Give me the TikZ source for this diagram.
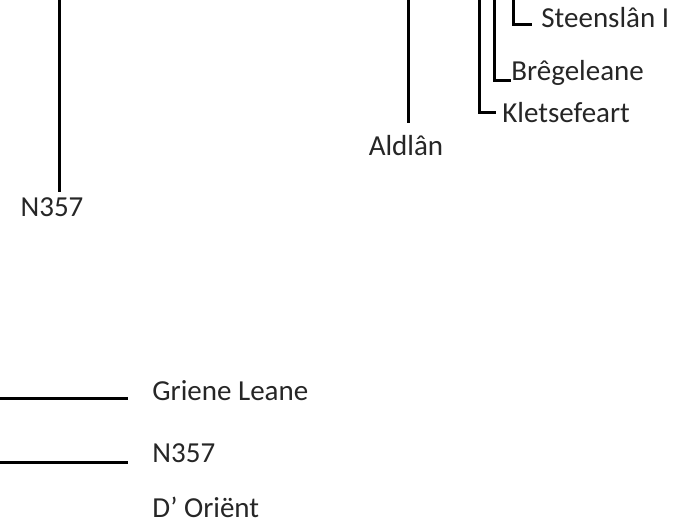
\documentclass[tikz,border=0pt]{standalone}
\usepackage{fontspec}
\setmainfont{Carlito}
\usepackage{tikz}
\usetikzlibrary{positioning}

\begin{document}
\begin{tikzpicture}[
    x=0.5pt, y=-0.5pt,
    road/.style={draw=black, line width=1.5pt},
    place/.style={inner sep=0pt, text=black!85, font=\fontsize{14.5}{17}\selectfont}
  ]
  \useasboundingbox (0,0) rectangle (675,526);
  % loose ends at the edges of the map
  \coordinate (nTop) at (59,0);
  \coordinate (aTop) at (408,0);
  \coordinate (kTop) at (479,0);
  \coordinate (bTop) at (494,0);
  \coordinate (sTop) at (513,0);
  \coordinate (gLeft) at (0,398);
  \coordinate (mLeft) at (0,462);

  % place names
  \node[place, anchor=base] (n357) at (52,216) {N357};
  \node[place, anchor=base] (aldlan) at (406,155) {Aldlân};
  \node[place, anchor=base west] (klets) at (502,122) {Kletsefeart};
  \node[place, anchor=base west] (breg) at (511,80) {Brêgeleane};
  \node[place, anchor=base west] (steen) at (541,27) {Steenslân I};
  \node[place, anchor=base west] (griene) at (152,400) {Griene Leane};
  \node[place, anchor=base west] (n357b) at (152,462) {N357};
  \node[place, anchor=base west] (orient) at (152,517) {D’ Oriënt};

  % roads
  \draw[road, shorten >=2.5pt] (nTop) -- (nTop |- n357.north);
  \draw[road, shorten >=5.5pt] (aTop) -- (aTop |- aldlan.north);
  \draw[road] (kTop) |- ([xshift=-3pt]klets.west);
  \draw[road] (bTop) |- (breg.base west);
  \draw[road] (sTop) |- ([xshift=-4.5pt, yshift=1.5pt]steen.base west);
  \draw[road] (gLeft) -- ([xshift=-12pt, yshift=1pt]griene.base west);
  \draw[road] (mLeft) -- ([xshift=-12pt]n357b.base west);
\end{tikzpicture}
\end{document}
